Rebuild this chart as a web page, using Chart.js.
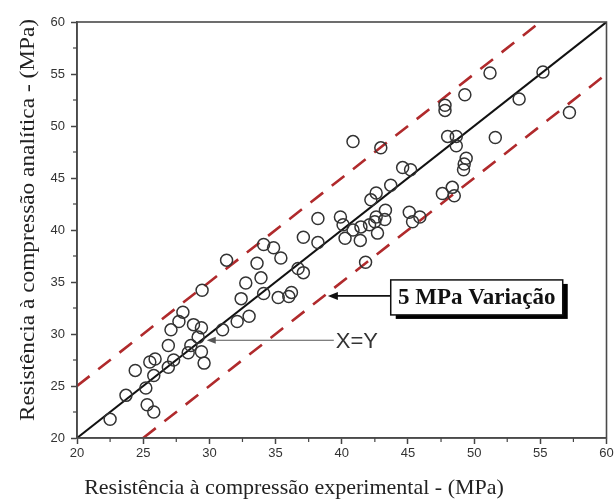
<!DOCTYPE html>
<html>
<head>
<meta charset="utf-8">
<script src="https://cdn.jsdelivr.net/npm/chart.js@4.4.1/dist/chart.umd.min.js"></script>
<style>
  html, body { margin: 0; padding: 0; background: #fff; }
  #wrap { width: 614px; height: 500px; }
</style>
</head>
<body>
<div id="wrap"><canvas id="myChart" width="614" height="500"></canvas></div>
<script>
// experimental (x) vs analytical (y) compressive strength, MPa
var experimental = [
  22.5, 23.7, 24.4, 25.2, 25.3, 25.8, 25.5, 25.9, 25.8, 26.9,
  26.9, 27.3, 27.1, 27.7, 28.0, 28.4, 28.6, 28.8, 29.4, 29.15,
  29.4, 29.6, 31.0, 29.45, 31.3, 32.1, 32.4, 33.0, 32.75, 33.6,
  33.9, 34.1, 34.1, 34.85, 35.4, 35.2, 36.0, 36.2, 36.7, 37.1,
  37.1, 38.2, 38.2, 39.9, 40.1, 40.25, 40.85, 41.4, 41.45, 42.1,
  42.5, 43.25, 43.3, 42.6, 42.2, 42.7, 41.8, 43.7, 45.1, 45.35,
  45.9, 47.6, 48.35, 48.5, 44.6, 45.2, 40.85, 42.95, 47.8, 47.8,
  49.3, 51.2, 55.2, 53.4, 57.2, 51.6, 48.0, 48.65, 48.65, 49.4,
  49.25, 49.2, 42.6
]
var analytical = [
  21.8, 24.1, 26.5, 24.8, 23.2, 22.5, 27.3, 27.6, 26.0, 28.9,
  26.8, 27.5, 30.4, 31.2, 32.1, 28.2, 28.9, 30.9, 30.6, 29.7,
  28.3, 27.2, 30.4, 34.2, 37.1, 31.2, 33.4, 31.7, 34.9, 36.8,
  35.4, 33.9, 38.6, 38.3, 37.3, 33.5, 33.6, 34.0, 36.3, 35.9,
  39.3, 38.8, 41.1, 41.25, 40.5, 39.2, 40.0, 39.0, 40.3, 40.5,
  40.8, 41.0, 41.9, 43.55, 42.9, 39.7, 36.9, 44.3, 41.7, 40.8,
  41.25, 43.5, 44.1, 43.3, 46.0, 45.8, 48.5, 47.9, 52.0, 51.5,
  53.0, 55.1, 55.2, 52.6, 51.3, 48.9, 49.0, 49.0, 48.1, 46.9,
  46.35, 45.8, 41.25
]

// X=Y line and the +/- 5 MPa band
var lineX = [20, 60]
var lineY = [20, 60]
var upperX = [20, 55]
var upperY = [25, 60]
var lowerX = [25, 60]
var lowerY = [20, 55]

var axisMin = 20
var axisMax = 60
var majorStep = 5
var minorTicks = [22.5, 27.5, 32.5, 37.5, 42.5, 47.5, 52.5, 57.5]

var xTitle = 'Resistência à compressão experimental - (MPa)'
var yTitle = 'Resistência à compressão analítica - (MPa)'
var bandLabel = '5 MPa Variação'
var identityLabel = 'X=Y'

function toPoints(xs, ys){
    return xs.map(function(v, i){ return {x: v, y: ys[i]} })
}

function arrow(ctx, x1, y1, x2, y2, color, width, head){
    ctx.save()
    ctx.strokeStyle = color
    ctx.fillStyle = color
    ctx.lineWidth = width
    ctx.beginPath()
    ctx.moveTo(x1, y1)
    ctx.lineTo(x2 + head, y2)
    ctx.stroke()
    ctx.beginPath()
    ctx.moveTo(x2, y2)
    ctx.lineTo(x2 + head + 2, y2 - head / 2)
    ctx.lineTo(x2 + head + 2, y2 + head / 2)
    ctx.closePath()
    ctx.fill()
    ctx.restore()
}

// frame, minor ticks, axis titles and the two callouts
var decorations = {
    id: 'decorations',
    afterDraw: function(chart){
        var ctx = chart.ctx
        var a = chart.chartArea
        var xs = chart.scales.x
        var ys = chart.scales.y

        ctx.save()
        ctx.strokeStyle = '#4a4a4a'
        ctx.lineWidth = 1.6
        ctx.strokeRect(a.left, a.top, a.right - a.left, a.bottom - a.top)

        ctx.lineWidth = 1.2
        ctx.strokeStyle = '#444'
        minorTicks.forEach(function(v){
            var px = xs.getPixelForValue(v)
            ctx.beginPath(); ctx.moveTo(px, a.bottom); ctx.lineTo(px, a.bottom + 4); ctx.stroke()
            var py = ys.getPixelForValue(v)
            ctx.beginPath(); ctx.moveTo(a.left, py); ctx.lineTo(a.left - 4, py); ctx.stroke()
        })

        ctx.fillStyle = '#222'
        ctx.font = '22px "Liberation Serif", "Times New Roman", serif'
        ctx.textAlign = 'center'
        ctx.textBaseline = 'middle'
        ctx.fillText(xTitle, 294, 488)
        ctx.save()
        ctx.translate(28, 220)
        ctx.rotate(-Math.PI / 2)
        ctx.scale(1.06, 1)
        ctx.fillText(yTitle, 0, 0)
        ctx.restore()

        // boxed label with drop shadow pointing to the lower band line
        var bx = xs.getPixelForValue(43.7)
        var by = ys.getPixelForValue(35.2)
        var bw = 172, bh = 35
        ctx.fillStyle = '#000'
        ctx.fillRect(bx + 5, by + 4, bw, bh)
        ctx.fillStyle = '#fff'
        ctx.fillRect(bx, by, bw, bh)
        ctx.strokeStyle = '#111'
        ctx.lineWidth = 1.5
        ctx.strokeRect(bx, by, bw, bh)
        ctx.fillStyle = '#111'
        ctx.font = 'bold 23px "Liberation Serif", "Times New Roman", serif'
        ctx.textAlign = 'center'
        ctx.fillText(bandLabel, bx + bw / 2, by + bh / 2 + 1)
        arrow(ctx, bx, by + 16, xs.getPixelForValue(38.95), by + 16, '#111', 1.6, 8)

        // X=Y callout
        var tx = xs.getPixelForValue(39.4)
        var ty = ys.getPixelForValue(29.4)
        ctx.fillStyle = '#333'
        ctx.font = '22px "Liberation Sans", Arial, sans-serif'
        ctx.textAlign = 'left'
        ctx.fillText(identityLabel, tx + 2, ty + 2)
        arrow(ctx, tx, ty, xs.getPixelForValue(29.8), ty, '#555', 1.2, 7)
        ctx.restore()
    }
}

var tickFont = {family: '"Liberation Sans", Arial, sans-serif', size: 13}

var ctx = document.getElementById('myChart')
var myChart = new Chart(ctx, {
    type: 'scatter',
    data: {
        datasets: [
            {
                label: 'pontos',
                data: toPoints(experimental, analytical),
                pointRadius: 6,
                pointBorderWidth: 1.5,
                pointBorderColor: '#333',
                pointBackgroundColor: 'rgba(0,0,0,0)',
                showLine: false,
                order: 1
            },
            {
                label: 'X=Y',
                type: 'line',
                data: toPoints(lineX, lineY),
                borderColor: '#111',
                borderWidth: 2,
                pointRadius: 0,
                order: 2
            },
            {
                label: '+5',
                type: 'line',
                data: toPoints(upperX, upperY),
                borderColor: '#b02a2c',
                borderWidth: 2.6,
                borderDash: [16, 11],
                pointRadius: 0,
                order: 3
            },
            {
                label: '-5',
                type: 'line',
                data: toPoints(lowerX, lowerY),
                borderColor: '#b02a2c',
                borderWidth: 2.6,
                borderDash: [16, 11],
                pointRadius: 0,
                order: 3
            }
        ]
    },
    options: {
        responsive: false,
        animation: false,
        layout: {padding: {top: 22, right: 4, left: 0, bottom: 0}},
        plugins: {
            legend: {display: false},
            tooltip: {enabled: false}
        },
        scales: {
            x: {
                type: 'linear',
                min: axisMin,
                max: axisMax,
                ticks: {stepSize: majorStep, color: '#333', font: tickFont, padding: 2},
                grid: {drawOnChartArea: false, drawTicks: true, tickLength: 6, tickWidth: 1.5, tickColor: '#444'},
                border: {display: true, color: '#4a4a4a', width: 1.6},
                afterFit: function(scale){
                    scale.height = 62
                    scale.paddingLeft = 0
                    scale.paddingRight = 0
                }
            },
            y: {
                type: 'linear',
                min: axisMin,
                max: axisMax,
                ticks: {stepSize: majorStep, color: '#333', font: tickFont, padding: 6},
                grid: {drawOnChartArea: false, drawTicks: true, tickLength: 6, tickWidth: 1.5, tickColor: '#444'},
                border: {display: true, color: '#4a4a4a', width: 1.6},
                afterFit: function(scale){
                    scale.width = 77
                }
            }
        }
    },
    plugins: [decorations]
});
</script>
</body>
</html>
